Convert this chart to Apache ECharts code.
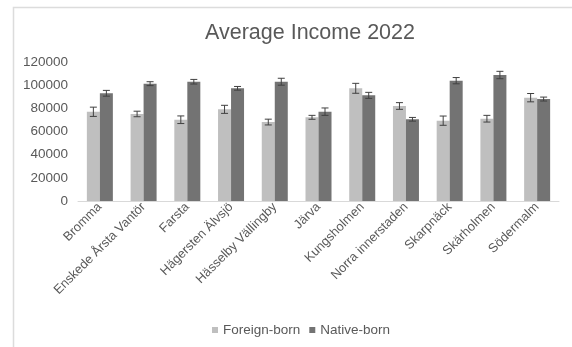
<!DOCTYPE html>
<html>
<head>
<meta charset="utf-8">
<script src="https://cdn.jsdelivr.net/npm/echarts@6/dist/echarts.min.js"></script>
<style>
html,body{margin:0;padding:0;background:#fff;}
#c{width:572px;height:347px;}
</style>
</head>
<body>
<div id="c"></div>
<script>
const categories = ["Bromma","Enskede Årsta Vantör","Farsta","Hägersten Älvsjö","Hässelby Vällingby","Järva","Kungsholmen","Norra innerstaden","Skarpnäck","Skärholmen","Södermalm"];
const foreignBorn = [77200,75300,70300,79300,68300,72400,97500,82200,69500,71200,89400];
const nativeBorn = [93200,101500,103200,97500,103200,77300,91400,70700,104100,109000,88200];
const foreignErr = [4000,2400,3300,3500,2500,1700,4300,2900,4000,2900,3600];
const nativeErr = [2500,1700,2000,1600,3000,3200,2600,1600,2700,3200,1700];
const yTicks = [0,20000,40000,60000,80000,100000,120000];

const BAR_W = 13;
const font = "'Liberation Sans', Arial, Helvetica, sans-serif";
const txt = '#595959';

function errSeries(name, vals, errs, offset){
  return {
    type: 'custom',
    name: name + ' err',
    z: 10,
    silent: true,
    data: vals.map((v,i)=>[i, v - errs[i], v + errs[i]]),
    renderItem: function(params, api){
      const lo = api.coord([api.value(0), api.value(1)]);
      const hi = api.coord([api.value(0), api.value(2)]);
      const x = lo[0] + offset;
      const cw = 3.5;
      const st = {stroke:'#404040', lineWidth:1};
      return {type:'group', children:[
        {type:'line', shape:{x1:x,y1:hi[1],x2:x,y2:lo[1]}, style:st},
        {type:'line', shape:{x1:x-cw,y1:hi[1],x2:x+cw,y2:hi[1]}, style:st},
        {type:'line', shape:{x1:x-cw,y1:lo[1],x2:x+cw,y2:lo[1]}, style:st}
      ]};
    },
    encode:{x:0,y:[1,2]}
  };
}

const chart = echarts.init(document.getElementById('c'));
chart.setOption({
  animation:false,
  backgroundColor:'#fff',
  graphic:[{type:'rect', shape:{x:13.5,y:7.5,width:600,height:400}, style:{fill:'none',stroke:'#dcdcdc',lineWidth:1.5}, silent:true}],
  title:{text:'Average Income 2022', left:200, top:17, textStyle:{fontFamily:font,fontSize:21.5,fontWeight:'normal',color:txt}},
  legend:{data:['Foreign-born','Native-born'], left:207, top:318, icon:'rect', itemWidth:6, itemHeight:6, itemGap:9,
    textStyle:{fontFamily:font,fontSize:13.5,color:txt}},
  grid:{left:78,right:13,top:62.3,bottom:146,containLabel:false},
  xAxis:{type:'category', data:categories,
    axisLine:{lineStyle:{color:'#d9d9d9'}}, axisTick:{show:false},
    axisLabel:{rotate:45, interval:0, margin:4, padding:[20,0,0,0], fontFamily:font, fontSize:12.8, color:txt}},
  yAxis:{type:'value', min:0, max:120000, interval:20000,
    axisLine:{show:false}, axisTick:{show:false}, splitLine:{show:false},
    axisLabel:{margin:10, fontFamily:font, fontSize:13.5, color:txt,
      formatter:function(v){ return yTicks.indexOf(v)>=0 ? String(v) : ''; }}},
  series:[
    {name:'Foreign-born', type:'bar', data:foreignBorn, barWidth:BAR_W, barGap:'0%', itemStyle:{color:'#bfbfbf'}},
    {name:'Native-born', type:'bar', data:nativeBorn, barWidth:BAR_W, barGap:'0%', itemStyle:{color:'#737373'}},
    errSeries('Foreign-born', foreignBorn, foreignErr, -BAR_W/2),
    errSeries('Native-born', nativeBorn, nativeErr, BAR_W/2)
  ]
});
</script>
</body>
</html>
